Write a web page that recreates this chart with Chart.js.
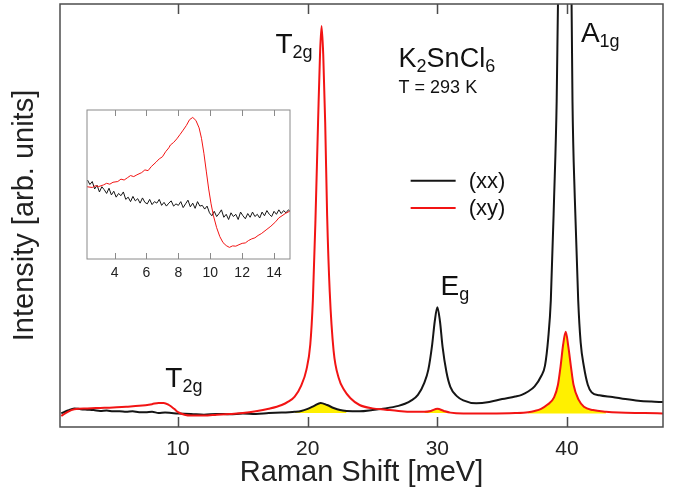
<!DOCTYPE html>
<html>
<head>
<meta charset="utf-8">
<script src="https://cdn.jsdelivr.net/npm/chart.js@4.4.0/dist/chart.umd.min.js"></script>
<style>
  body { margin: 0; background: #fff; }
  #wrap { position: relative; width: 673px; height: 491px; }
  #inset { position: absolute; left: 80px; top: 100px; }
</style>
</head>
<body>
<div id="wrap">
  <canvas id="spectrum" width="673" height="491"></canvas>
  <canvas id="inset" width="220" height="190"></canvas>
</div>
<script>
// Raman shift [meV] / intensity [arb. units]
const xxMain = [
  [1.0, 3.2], [1.5, 3.9], [2.0, 4.4], [2.5, 4.2], [3.0, 4.1], [3.5, 4.0], [4.0, 3.8], [4.5, 3.9],
  [5.0, 3.7], [5.5, 3.7], [6.0, 3.6], [6.5, 3.7], [7.0, 3.5], [7.5, 3.5], [8.0, 3.6], [8.5, 3.3],
  [9.0, 3.4], [9.5, 3.3], [10.0, 3.2], [11.0, 3.1], [12.0, 2.9], [13.0, 3.1], [14.0, 3.0],
  [15.0, 3.2], [16.0, 3.1], [17.0, 3.3], [18.0, 3.4], [19.0, 3.6], [19.5, 3.8], [20.0, 4.3],
  [20.5, 5.0], [21.0, 5.7], [21.5, 5.2], [22.0, 4.5], [22.5, 4.0], [23.0, 3.8], [24.0, 3.7],
  [25.0, 4.0], [26.0, 4.4], [27.0, 5.0], [27.5, 5.5], [28.0, 6.3], [28.5, 7.6], [29.0, 10.5],
  [29.3, 13.5], [29.6, 19.5], [29.8, 25], [30.0, 28.3], [30.2, 25], [30.4, 19], [30.7, 13],
  [31.0, 9.5], [31.5, 7.3], [32.0, 6.3], [33.0, 5.6], [34.0, 5.9], [35.0, 6.6], [36.0, 7.2],
  [36.5, 7.6], [37.0, 8.4], [37.5, 9.6], [38.0, 12.0], [38.3, 14.5], [38.55, 21], [38.75, 30],
  [39.0, 54], [39.2, 77], [39.3, 100], [39.55, 140], [39.8, 160], [40.05, 140], [40.35, 100],
  [40.42, 77], [40.6, 54], [40.86, 30], [41.05, 20], [41.3, 14.3], [41.6, 10], [41.9, 8.2],
  [42.5, 7.5], [43.5, 7.1], [44.5, 6.6], [45.5, 6.2], [46.5, 6.0], [47.4, 5.9]
];
const xyMain = [
  [1.0, 2.6], [1.5, 3.6], [2.0, 4.2], [3.0, 4.4], [4.0, 4.5], [5.0, 4.6], [6.0, 4.8], [7.0, 5.0],
  [8.0, 5.4], [8.5, 5.7], [8.9, 5.7], [9.3, 5.2], [9.7, 4.3], [10.0, 3.5], [10.5, 2.9], [11.0, 2.7],
  [12.0, 2.7], [13.0, 2.9], [14.0, 3.1], [15.0, 3.3], [16.0, 3.7], [17.0, 4.3], [18.0, 5.2],
  [18.5, 6.0], [19.0, 7.2], [19.5, 9.8], [19.9, 13.5], [20.2, 19.5], [20.4, 30], [20.6, 49],
  [20.8, 72], [20.95, 88], [21.07, 94.8], [21.2, 88], [21.35, 72], [21.5, 50], [21.7, 32],
  [22.0, 18], [22.4, 11.5], [22.8, 8.8], [23.3, 6.8], [24.0, 5.2], [25.0, 4.4], [26.0, 4.1],
  [27.0, 3.8], [28.0, 3.6], [29.0, 3.6], [29.5, 3.8], [30.0, 4.3], [30.5, 3.8], [31.0, 3.4],
  [32.0, 3.2], [34.0, 3.2], [36.0, 3.3], [37.0, 3.5], [37.5, 3.8], [38.0, 4.3], [38.5, 5.3],
  [39.0, 7.0], [39.3, 10], [39.5, 14.3], [39.7, 19.5], [39.9, 22.5], [40.1, 19], [40.3, 14.3],
  [40.5, 10], [40.9, 6.4], [41.3, 4.8], [42.0, 4.0], [43.0, 3.6], [44.0, 3.4], [46.0, 3.3], [47.4, 3.2]
];
// inset: low-energy region, own intensity scale
const xxInset = [
  [2.3, 53], [2.45, 50], [2.6, 52], [2.75, 47], [2.9, 49.5], [3.05, 45], [3.2, 48.5], [3.35, 46.5],
  [3.5, 44], [3.65, 47.5], [3.8, 43], [3.95, 45.5], [4.1, 41.5], [4.25, 44], [4.4, 42.5], [4.55, 45],
  [4.7, 40], [4.85, 41.5], [5.0, 38.5], [5.15, 42], [5.3, 39], [5.45, 40.5], [5.6, 37.5], [5.75, 41],
  [5.9, 38], [6.05, 37], [6.2, 40], [6.35, 36.5], [6.5, 38.5], [6.65, 37.5], [6.8, 40], [6.95, 36],
  [7.1, 38], [7.25, 35.5], [7.4, 37.5], [7.55, 39], [7.7, 35.5], [7.85, 37], [8.0, 36], [8.15, 38.5],
  [8.3, 34.5], [8.45, 37], [8.6, 39.5], [8.75, 35], [8.9, 37.5], [9.05, 34], [9.2, 38.5], [9.35, 35.5],
  [9.5, 36], [9.65, 33.5], [9.8, 35.5], [9.95, 31], [10.1, 29], [10.25, 32], [10.4, 28.5], [10.55, 30.5],
  [10.7, 33], [10.85, 28], [11.0, 30], [11.15, 26.5], [11.3, 31], [11.45, 28.5], [11.6, 30], [11.75, 26.5],
  [11.9, 31.5], [12.05, 29], [12.2, 27], [12.35, 30.5], [12.5, 28], [12.65, 31.5], [12.8, 28.5],
  [12.95, 30], [13.1, 27.5], [13.25, 31.5], [13.4, 29], [13.55, 32.5], [13.7, 30], [13.85, 28.5],
  [14.0, 32], [14.15, 30], [14.3, 33], [14.45, 30.5], [14.6, 32.5], [14.75, 31], [14.9, 33], [15.0, 32]
];
const xyInset = [
  [2.27, 48.5], [2.6, 48], [2.8, 49.2], [3.0, 48.6], [3.3, 49.7], [3.5, 50.8], [3.7, 50.2], [3.9, 51.5],
  [4.2, 52], [4.4, 53.6], [4.6, 53], [4.8, 54.5], [5.0, 56], [5.2, 55.3], [5.4, 56.5], [5.7, 58],
  [5.9, 59.8], [6.1, 59.3], [6.3, 62], [6.6, 65], [6.8, 67.2], [7.0, 68.6], [7.2, 72], [7.4, 74.6],
  [7.5, 76.5], [7.7, 78.2], [7.9, 80.6], [8.1, 83.5], [8.3, 86.5], [8.5, 89.6], [8.7, 93.5],
  [8.9, 95], [9.1, 93], [9.3, 88], [9.45, 81], [9.6, 71], [9.75, 59], [9.9, 47], [10.05, 37],
  [10.2, 29], [10.4, 21], [10.6, 15], [10.8, 11], [11.0, 9], [11.2, 7.8], [11.4, 8.8], [11.6, 8.6],
  [11.8, 9.6], [12.0, 10.5], [12.2, 10.8], [12.4, 12.4], [12.6, 13.5], [12.8, 14.2], [13.0, 15.8],
  [13.2, 17], [13.5, 19.5], [13.8, 22], [14.1, 25], [14.3, 27.6], [14.5, 29], [14.7, 30.5], [15.0, 32.2]
];
const mainTicks = [10, 20, 30, 40];
const insetTicks = [4, 6, 8, 10, 12, 14];

const font = "'Liberation Sans', Arial, sans-serif";
const red = '#f21414';
const black = '#151515';
const yellow = '#fff000';

// text placed in data coordinates: [text, isSubscript]
const peakLabels = [
  { x: 17.51, y: 88.3, size: 28, parts: [['T', 0], ['2g', 1]] },
  { x: 27.01, y: 85.2, size: 27, parts: [['K', 0], ['2', 1], ['SnCl', 0], ['6', 1]] },
  { x: 27.01, y: 79.0, size: 18, parts: [['T = 293 K', 0]] },
  { x: 41.07, y: 91.1, size: 28, parts: [['A', 0], ['1g', 1]] },
  { x: 30.25, y: 31.2, size: 28, parts: [['E', 0], ['g', 1]] },
  { x: 9.02, y: 9.46, size: 28, parts: [['T', 0], ['2g', 1]] }
];
const legendItems = [
  { label: '(xx)', color: black, y: 58.2 },
  { label: '(xy)', color: red, y: 51.8 }
];

const toPts = (arr) => arr.map(p => ({ x: p[0], y: p[1] }));
const slice = (arr, a, b) => toPts(arr.filter(p => p[0] >= a && p[0] <= b));

const labelsPlugin = {
  id: 'labels',
  afterDatasetsDraw(chart) {
    const { ctx, scales: { x, y } } = chart;
    ctx.save();
    ctx.fillStyle = '#111';
    ctx.textAlign = 'left';
    ctx.textBaseline = 'alphabetic';
    peakLabels.forEach(l => {
      let px = x.getPixelForValue(l.x);
      const py = y.getPixelForValue(l.y);
      l.parts.forEach(([txt, sub]) => {
        ctx.font = (sub ? 18 : l.size) + 'px ' + font;
        ctx.fillText(txt, px, sub ? py + 5 : py);
        px += ctx.measureText(txt).width;
      });
    });
    // legend
    ctx.font = '22px ' + font;
    ctx.textBaseline = 'middle';
    legendItems.forEach(it => {
      const py = y.getPixelForValue(it.y);
      ctx.strokeStyle = it.color;
      ctx.lineWidth = 2;
      ctx.beginPath();
      ctx.moveTo(x.getPixelForValue(27.94), py);
      ctx.lineTo(x.getPixelForValue(31.41), py);
      ctx.stroke();
      ctx.fillText(it.label, x.getPixelForValue(32.42), py + 1);
    });
    ctx.restore();
  }
};

function framePlugin(color, width, tickLen) {
  return {
    id: 'frame',
    afterDatasetsDraw(chart) {
      const { ctx, chartArea: a, scales: { x } } = chart;
      ctx.save();
      ctx.strokeStyle = color;
      ctx.lineWidth = width;
      ctx.strokeRect(a.left, a.top, a.right - a.left, a.bottom - a.top);
      x.ticks.forEach(t => {
        const px = Math.round(x.getPixelForValue(t.value)) + 0.5;
        ctx.beginPath();
        ctx.moveTo(px, a.bottom);
        ctx.lineTo(px, a.bottom - tickLen);
        ctx.moveTo(px, a.top);
        ctx.lineTo(px, a.top + tickLen);
        ctx.stroke();
      });
      ctx.restore();
    }
  };
}

function fillDs(points, base) {
  return {
    data: points, borderWidth: 0, pointRadius: 0, backgroundColor: yellow,
    fill: { value: base }, order: 5, cubicInterpolationMode: 'monotone'
  };
}

new Chart(document.getElementById('spectrum'), {
  type: 'line',
  data: {
    datasets: [
      fillDs(slice(xxMain, 19.0, 23.5), 3.3),
      fillDs(slice(xyMain, 28.8, 31.5), 3.3),
      fillDs(slice(xyMain, 37.0, 43.5), 3.2),
      { label: '(xx)', data: toPts(xxMain), borderColor: black, borderWidth: 2, pointRadius: 0, order: 2, cubicInterpolationMode: 'monotone' },
      { label: '(xy)', data: toPts(xyMain), borderColor: red, borderWidth: 2, pointRadius: 0, order: 1, cubicInterpolationMode: 'monotone' }
    ]
  },
  options: {
    responsive: false,
    animation: false,
    devicePixelRatio: 1,
    layout: { padding: { top: 4, right: 10, left: 0, bottom: 0 } },
    plugins: { legend: { display: false }, tooltip: { enabled: false } },
    scales: {
      x: {
        type: 'linear', min: 0.9, max: 47.4,
        afterBuildTicks: (s) => { s.ticks = mainTicks.map(v => ({ value: v })); },
        afterFit: (s) => { s.height = 64; },
        grid: { display: false, drawTicks: false },
        border: { display: false },
        ticks: { color: '#222', font: { size: 21, family: font }, padding: 10 },
        title: { display: true, text: 'Raman Shift [meV]', color: '#222', font: { size: 29, family: font }, padding: { top: 0, bottom: 1 } }
      },
      y: {
        min: 0, max: 100,
        afterFit: (s) => { s.width = 60; },
        grid: { display: false },
        border: { display: false },
        ticks: { display: false },
        title: { display: true, text: 'Intensity [arb. units]', color: '#222', font: { size: 29, family: font }, padding: { top: 8, bottom: 0 } }
      }
    }
  },
  plugins: [framePlugin('#4d4d4d', 1.5, 10), labelsPlugin]
});

new Chart(document.getElementById('inset'), {
  type: 'line',
  data: {
    datasets: [
      { data: toPts(xxInset), borderColor: black, borderWidth: 1, pointRadius: 0, order: 2 },
      { data: toPts(xyInset), borderColor: red, borderWidth: 1, pointRadius: 0, order: 1 }
    ]
  },
  options: {
    responsive: false,
    animation: false,
    devicePixelRatio: 1,
    layout: { padding: { top: 10, right: 10, left: 7, bottom: 0 } },
    plugins: { legend: { display: false }, tooltip: { enabled: false } },
    scales: {
      x: {
        type: 'linear', min: 2.27, max: 15,
        afterBuildTicks: (s) => { s.ticks = insetTicks.map(v => ({ value: v })); },
        afterFit: (s) => { s.height = 31; },
        grid: { display: false, drawTicks: false },
        border: { display: false },
        ticks: { color: '#222', font: { size: 14, family: font }, padding: 6 }
      },
      y: { display: false, min: 0, max: 100 }
    }
  },
  plugins: [framePlugin('#8a8a8a', 1, 6)]
});
</script>
</body>
</html>
